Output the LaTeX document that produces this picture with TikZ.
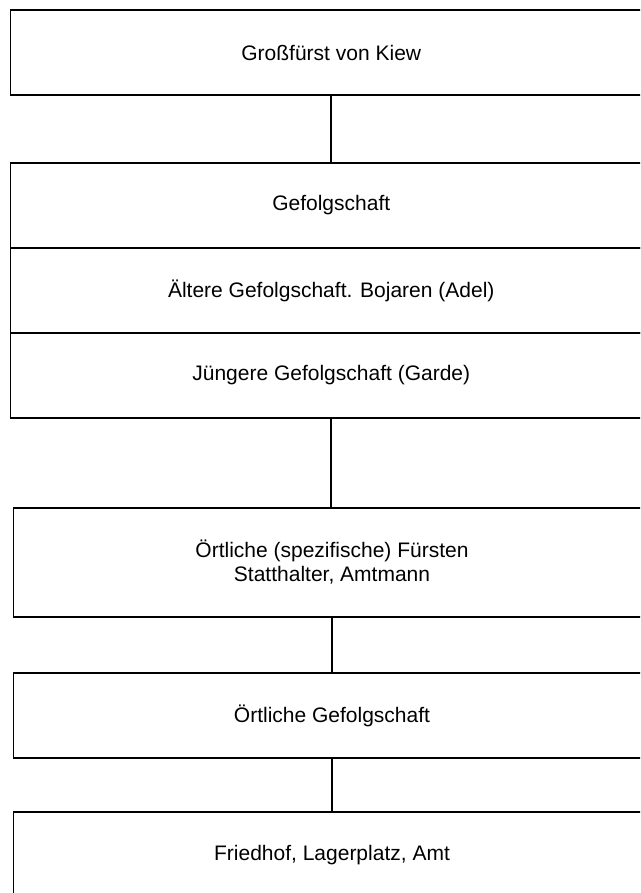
\documentclass[tikz,border=0pt]{standalone}
\usepackage{fontspec}
\setmainfont{Liberation Sans}
\usetikzlibrary{positioning}
\tikzset{>=latex}
\tikzset{
  rang/.style={draw,rectangle,line width=1.6pt,inner sep=0pt,outer sep=0pt,
    minimum height=85pt,align=center,font=\fontsize{21}{24}\selectfont},
  wide/.style={minimum width=641.5pt},
  narrow/.style={minimum width=637pt},
  link/.style={line width=1.6pt}
}

\begin{document}
\begin{tikzpicture}[x=1pt,y=-1pt]
\useasboundingbox (0,0) rectangle (640,893);
\clip (0,0) rectangle (640,893);
% Kiew and the retinue
\node[rang,wide] (kiew) at (331.25,52.5) {Großfürst von Kiew};
\node[rang,wide] (gef) at (331.25,205.5) {Gefolgschaft};
\node[rang,wide] (alt) at (331.25,290.5) {Ältere Gefolgschaft. Bojaren (Adel)};
\node[rang,wide] (jung) at (331.25,375.5) {Jüngere Gefolgschaft (Garde)};
% local level
\node[rang,narrow,minimum height=109pt] (fuerst) at (332,562.5) {Örtliche (spezifische) Fürsten\\Statthalter, Amtmann};
\node[rang,narrow] (oert) at (332,715.5) {Örtliche Gefolgschaft};
\node[rang,narrow,minimum height=86pt] (amt) at (332,855) {Friedhof, Lagerplatz, Amt};
\draw[link] (kiew.south) -- (gef.north);
\draw[link] (jung.south) -- (jung.south |- fuerst.north);
\draw[link] (fuerst.south) -- (oert.north);
\draw[link] (oert.south) -- (amt.north);
\end{tikzpicture}
\end{document}
